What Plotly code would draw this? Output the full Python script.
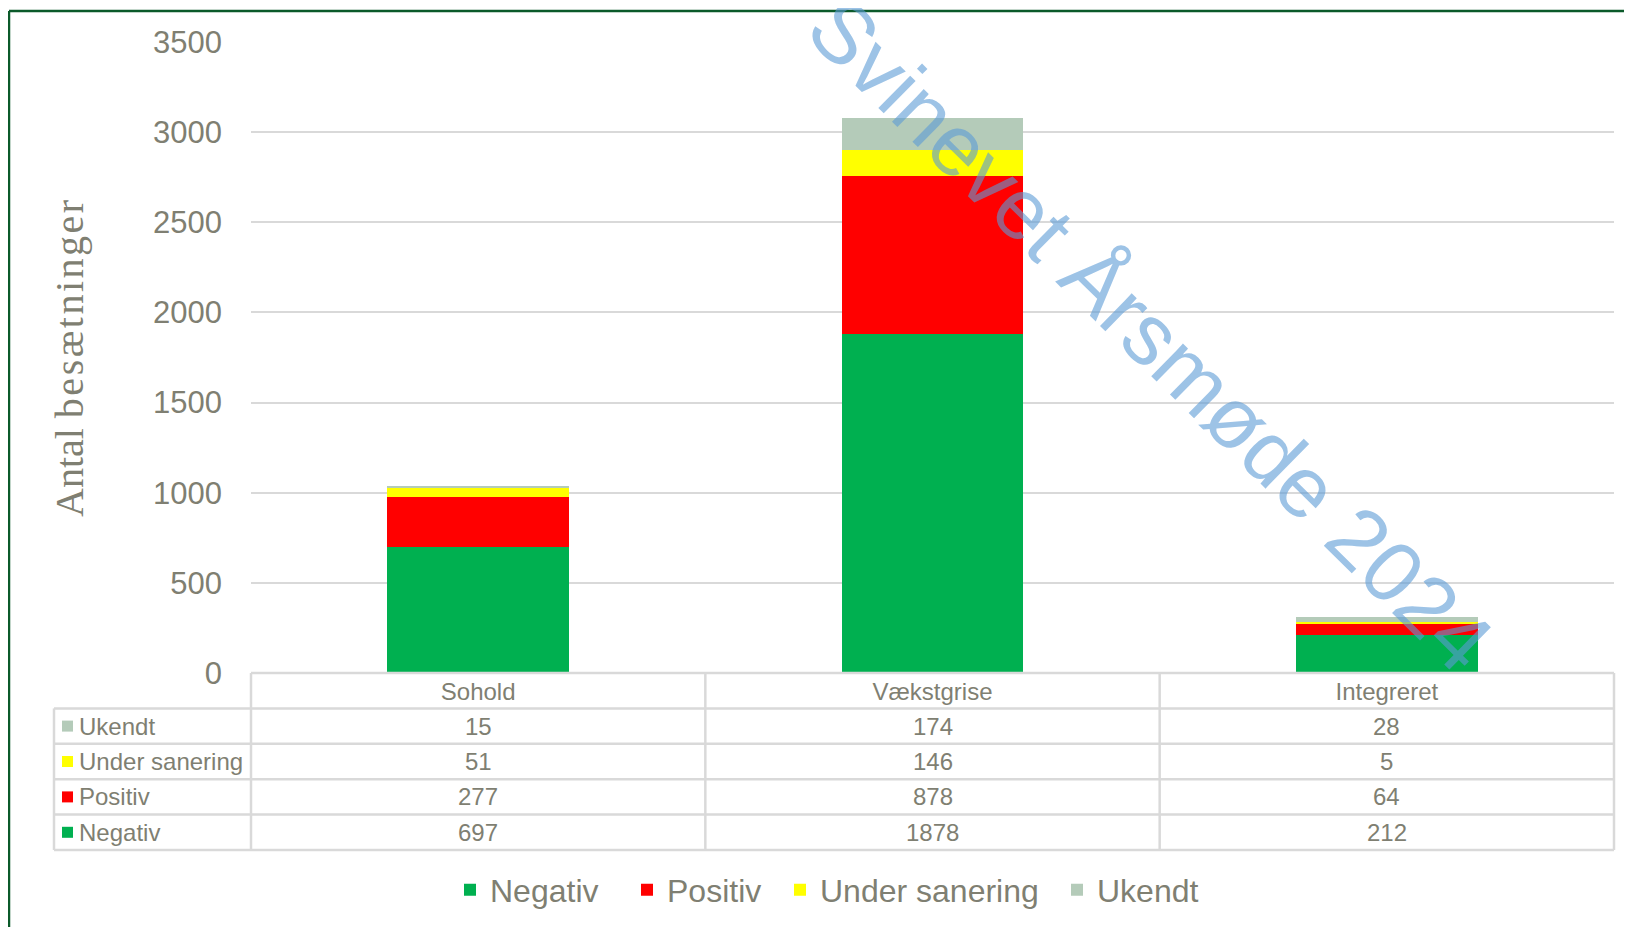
import plotly.graph_objects as go

# ---- data ----
categories = ["Sohold", "Vækstgrise", "Integreret"]
negativ = [697, 1878, 212]
positiv = [277, 878, 64]
under_sanering = [51, 146, 5]
ukendt = [15, 174, 28]
series_names = ["Negativ", "Positiv", "Under sanering", "Ukendt"]
series_values = [negativ, positiv, under_sanering, ukendt]
series_colors = ["#00B050", "#FF0000", "#FFFF00", "#B4CBB9"]
y_ticks = [0, 500, 1000, 1500, 2000, 2500, 3000, 3500]
y_title_a = "Antal"
y_title_b = "besætninger"
watermark = "Svinevet Årsmøde 2024"

# ---- layout geometry (screen pixels; page body has an 8px margin) ----
OFF = 8
SW, SH = 1632, 927
FW, FH = SW - OFF, SH - OFF
PL, PR, PT, PB = 251, 1614, 42, 673          # plot area in screen px
PW, PH = PR - PL, PB - PT
ROW_H = 35.4
TEXT = "#7F7F72"
GRID = "#D9D9D9"
FONT = "Liberation Sans, Arial, sans-serif"


def px(x):
    return (x - PL) / PW


def py(y):
    return (PB - y) / PH


legend_names = ["legend", "legend2", "legend3", "legend4"]
legend_text_x = [490, 667, 820, 1097]   # screen x where each legend text starts

fig = go.Figure()
for name, vals, col, lg in zip(series_names, series_values, series_colors, legend_names):
    fig.add_trace(go.Bar(x=categories, y=vals, name=name, marker_color=col,
                         marker_line_width=0, legend=lg))

shapes = []
annotations = []

# table rows (top to bottom)
table_rows = list(zip(series_names, series_values, series_colors))[::-1]
n_rows = len(table_rows)
label_left = 54
LW = 2.5
shapes.append(dict(type="line", xref="paper", yref="paper", x0=0, x1=1,
                   y0=py(PB), y1=py(PB), line=dict(color=GRID, width=LW)))
for i in range(1, n_rows + 2):
    yy = PB + i * ROW_H
    shapes.append(dict(type="line", xref="paper", yref="paper", x0=px(label_left), x1=1,
                       y0=py(yy), y1=py(yy), line=dict(color=GRID, width=LW)))
bottom = PB + (n_rows + 1) * ROW_H
shapes.append(dict(type="line", xref="paper", yref="paper", x0=px(label_left), x1=px(label_left),
                   y0=py(PB + ROW_H), y1=py(bottom), line=dict(color=GRID, width=LW)))
for k in range(len(categories) + 1):
    xx = k / len(categories)
    shapes.append(dict(type="line", xref="paper", yref="paper", x0=xx, x1=xx,
                       y0=py(PB), y1=py(bottom), line=dict(color=GRID, width=LW)))

for i, (name, vals, col) in enumerate(table_rows):
    yc = PB + (i + 1.5) * ROW_H
    shapes.append(dict(type="rect", xref="paper", yref="paper",
                       x0=px(62), x1=px(73), y0=py(yc - 5.5), y1=py(yc + 5.5),
                       fillcolor=col, line=dict(width=0)))
    annotations.append(dict(text=name, xref="paper", yref="paper", x=px(77), y=py(yc),
                            xanchor="left", yanchor="middle", showarrow=False,
                            font=dict(family=FONT, size=24, color=TEXT)))
    for cat, v in zip(categories, vals):
        annotations.append(dict(text=str(v), xref="x", yref="paper", x=cat, y=py(yc),
                                xanchor="center", yanchor="middle", showarrow=False,
                                font=dict(family=FONT, size=24, color=TEXT)))

# y-axis title
annotations.append(dict(
    text=y_title_a + ' <span style="letter-spacing:2.5px">' + y_title_b + '</span>',
    xref="paper", yref="paper", x=px(69), y=py(357),
    xanchor="center", yanchor="middle", textangle=-90, showarrow=False,
    font=dict(family="Liberation Serif, Times New Roman, serif", size=40, color=TEXT)))

# watermark
annotations.append(dict(text=watermark, xref="paper", yref="paper", x=px(1151), y=py(334),
                        xanchor="center", yanchor="middle", textangle=44.5, showarrow=False,
                        font=dict(family=FONT, size=86, color="rgba(91,155,213,0.6)")))

# border (left and top)
BORDER = "#0B5A2A"
shapes.append(dict(type="line", xref="paper", yref="paper", x0=px(9), x1=px(9),
                   y0=py(11), y1=py(SH + 5), line=dict(color=BORDER, width=2.5)))
shapes.append(dict(type="line", xref="paper", yref="paper", x0=px(9), x1=px(SW + 5),
                   y0=py(11), y1=py(11), line=dict(color=BORDER, width=2.5)))

legend_layout = {}
for lg, tx in zip(legend_names, legend_text_x):
    legend_layout[lg] = dict(orientation="h", x=px(tx - 40), xanchor="left", y=py(890),
                             yanchor="middle", font=dict(family=FONT, size=32, color=TEXT),
                             bgcolor="rgba(0,0,0,0)", borderwidth=0)

fig.update_layout(
    width=FW, height=FH,
    margin=dict(l=PL - OFF, r=SW - PR, t=PT - OFF, b=SH - PB, autoexpand=False),
    barmode="stack", bargap=0.6,
    paper_bgcolor="white", plot_bgcolor="white",
    font=dict(family=FONT, color=TEXT),
    showlegend=True,
    xaxis=dict(type="category", showgrid=False, zeroline=False, showline=False,
               ticks="", tickfont=dict(family=FONT, size=24, color=TEXT),
               ticklabelstandoff=2, automargin=False, fixedrange=True),
    yaxis=dict(range=[0, 3500], tickvals=y_ticks, showgrid=True, gridcolor=GRID,
               gridwidth=2, zeroline=False, showline=False, ticks="",
               tickfont=dict(family=FONT, size=31, color=TEXT), ticklabelstandoff=28,
               automargin=False, fixedrange=True),
    shapes=shapes, annotations=annotations,
    **legend_layout,
)

fig.write_html("out.html")
